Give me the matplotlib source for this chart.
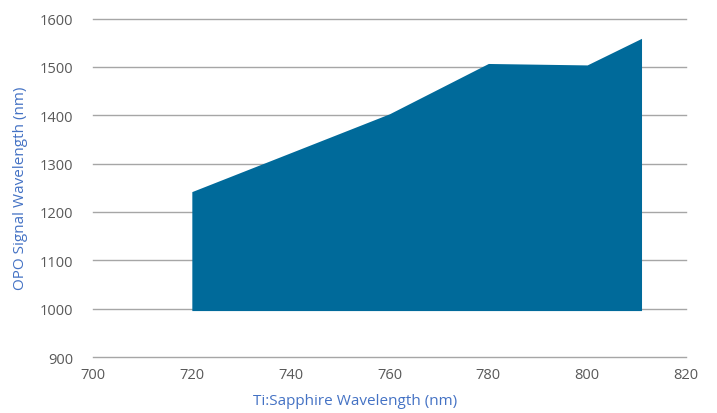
import matplotlib
matplotlib.use("Agg")
import matplotlib.pyplot as plt

ti_wavelength = [720, 760, 780, 800, 811]
opo_signal = [1242, 1403, 1507, 1504, 1559]
base = 996

plt.rcParams['font.family'] = ['Open Sans', 'DejaVu Sans']

fig = plt.figure(figsize=(7.17, 4.14), dpi=100)
ax = fig.add_axes([93 / 717, 1 - 358 / 414, (686 - 93) / 717, (358 - 19.5) / 414])

ax.fill_between(ti_wavelength, base, opo_signal, color="#006a9a", linewidth=0, zorder=2)

ax.set_xlim(700, 820)
ax.set_ylim(900, 1600)
ax.set_xticks(range(700, 821, 20))
ax.set_yticks(range(900, 1601, 100))
ax.grid(axis="y", color="#a6a6a6", linewidth=1, zorder=1)
for gl in ax.get_ygridlines():
    gl.set_clip_on(False)
for s in ax.spines.values():
    s.set_visible(False)
ax.tick_params(length=0, colors="#595959", labelsize=10.5)
ax.tick_params(axis="y", pad=14)
ax.tick_params(axis="x", pad=7)

ax.set_xlabel("Ti:Sapphire Wavelength (nm)", color="#4472c4", fontsize=11)
ax.set_ylabel("OPO Signal Wavelength (nm)", color="#4472c4", fontsize=11)
ax.xaxis.set_label_coords((355 - 93) / 593, -(394 - 358) / 338.5, transform=ax.transAxes)
ax.yaxis.set_label_coords(-(93 - 28) / 593, 0.5, transform=ax.transAxes)

fig.savefig("out.png", dpi=100)
